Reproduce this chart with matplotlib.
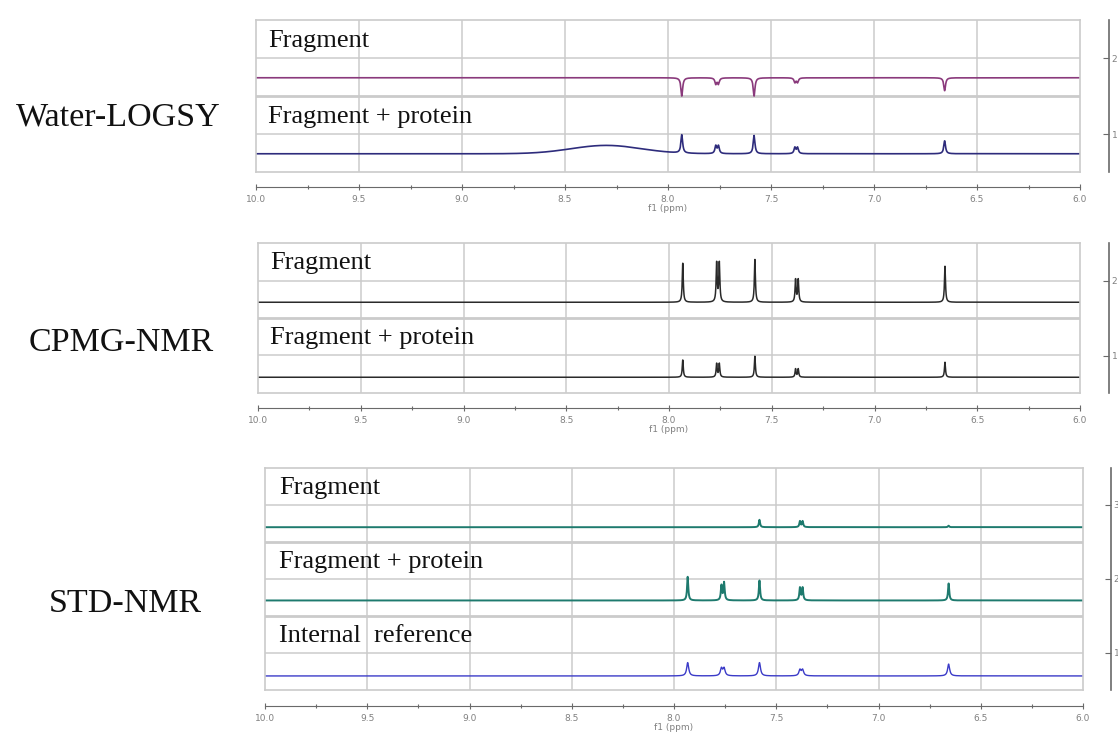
"""Ligand-observed NMR screening panels: Water-LOGSY, CPMG and STD."""
import matplotlib.pyplot as plt
import numpy as np
from matplotlib.ticker import MultipleLocator

PPM_TICKS = [10.0, 9.5, 9.0, 8.5, 8.0, 7.5, 7.0, 6.5, 6.0]
PPM_LABELS = ["10.0", "9.5", "9.0", "8.5", "8.0", "7.5", "7.0", "6.5", "6.0"]

# fragment signals (ppm): singlet, doublet, singlet, doublet, singlet
PEAK_PPM = [7.933, 7.768, 7.755, 7.582, 7.384, 7.371, 6.657]

# peak heights, in units of one trace row
LOGSY_FRAGMENT = [-0.24, -0.08, -0.08, -0.24, -0.06, -0.06, -0.17]
LOGSY_COMPLEX = [0.24, 0.10, 0.10, 0.24, 0.08, 0.08, 0.17]
LOGSY_HUMP = [8.30, 0.11, 0.17]          # protein background: centre, height, sigma
CPMG_FRAGMENT = [0.52, 0.52, 0.52, 0.57, 0.30, 0.30, 0.48]
CPMG_COMPLEX = [0.23, 0.18, 0.18, 0.28, 0.11, 0.11, 0.20]
STD_FRAGMENT = [0.0, 0.0, 0.0, 0.10, 0.08, 0.08, 0.02]
STD_COMPLEX = [0.32, 0.20, 0.24, 0.27, 0.17, 0.17, 0.23]
STD_REFERENCE = [0.18, 0.10, 0.10, 0.18, 0.08, 0.08, 0.16]

GRID = "#cbcbcb"
AXIS = "#6a6a6a"
SERIF = "Liberation Serif"

fig = plt.figure(figsize=(11.18, 7.36), dpi=100)
x = np.linspace(6.0, 10.0, 8001)


def lorentz(heights, hwhm):
    y = np.zeros_like(x)
    for c, h in zip(PEAK_PPM, heights):
        y += h / (1 + ((x - c) / hwhm) ** 2)
    return y


def setup_panel(rect, n_rows, xaxis_pos, yaxis_pos):
    ax = fig.add_axes(rect)
    ax.set_xlim(10.0, 6.0)
    ax.set_ylim(0, n_rows)
    ax.set_xticks([])
    ax.set_yticks([])
    for s in ax.spines.values():
        s.set_color(GRID)
        s.set_linewidth(1.2)
    for p in PPM_TICKS[1:-1]:
        ax.axvline(p, color=GRID, lw=1.1, zorder=0)
    for r in range(n_rows):
        ax.axhline(r + 0.5, color=GRID, lw=1.1, zorder=0)
        if r > 0:
            ax.axhline(r, color=GRID, lw=2.0, zorder=0)

    sec = ax.secondary_xaxis(xaxis_pos)
    sec.set_xticks(PPM_TICKS, PPM_LABELS)
    sec.xaxis.set_minor_locator(MultipleLocator(0.25))
    sec.tick_params(which="both", direction="inout", color=AXIS, labelcolor="#808080",
                    labelsize=6.5, length=5, width=0.8, pad=3)
    sec.tick_params(which="minor", length=3)
    sec.spines["bottom"].set_color(AXIS)
    sec.set_xlabel("f1 (ppm)", fontsize=6.5, color="#808080", labelpad=0)

    right = ax.secondary_yaxis(yaxis_pos)
    right.set_yticks([r + 0.5 for r in range(n_rows)], [str(r + 1) for r in range(n_rows)])
    right.tick_params(direction="in", color=AXIS, labelcolor="#808080", labelsize=6.5,
                      length=4, width=0.8, pad=2)
    right.spines["right"].set_color(AXIS)
    right.spines["right"].set_linewidth(1.2)
    return ax


def label_rows(ax, names, x0):
    n = len(names)
    for i, name in enumerate(names):
        ax.text(x0, n - i - 0.27, name, transform=ax.get_yaxis_transform(),
                ha="left", va="center", fontsize=19, family=SERIF, color="#111111")


# Water-LOGSY
ax1 = setup_panel([256 / 1118, 1 - 172 / 736, 824 / 1118, 152 / 736], 2, -0.099, 1.035)
hump = LOGSY_HUMP[1] * np.exp(-0.5 * ((x - LOGSY_HUMP[0]) / LOGSY_HUMP[2]) ** 2)
ax1.plot(x, 1.24 + lorentz(LOGSY_FRAGMENT, 0.005), color="#8a3a7c", lw=1.2)
ax1.plot(x, 0.24 + lorentz(LOGSY_COMPLEX, 0.005) + hump, color="#2e2c7c", lw=1.2)
label_rows(ax1, ["Fragment", "Fragment + protein"], 0.0146)

# CPMG
ax2 = setup_panel([258 / 1118, 1 - 393 / 736, 822 / 1118, 150 / 736], 2, -0.10, 1.035)
ax2.plot(x, 1.21 + lorentz(CPMG_FRAGMENT, 0.003), color="#2a2a2a", lw=1.1)
ax2.plot(x, 0.21 + lorentz(CPMG_COMPLEX, 0.003), color="#2a2a2a", lw=1.1)
label_rows(ax2, ["Fragment", "Fragment + protein"], 0.0146)

# STD
ax3 = setup_panel([265 / 1118, 1 - 690 / 736, 818 / 1118, 222 / 736], 3, -0.072, 1.034)
ax3.plot(x, 2.2 + lorentz(STD_FRAGMENT, 0.0035), color="#1e7a6e", lw=1.4)
ax3.plot(x, 1.21 + lorentz(STD_COMPLEX, 0.0035), color="#1e7a6e", lw=1.4)
ax3.plot(x, 0.19 + lorentz(STD_REFERENCE, 0.006), color="#3b3bc8", lw=1.0)
label_rows(ax3, ["Fragment", "Fragment + protein", "Internal  reference"], 0.017)

for txt, cx, cy in [("Water-LOGSY", 118, 117), ("CPMG-NMR", 121, 343), ("STD-NMR", 125, 604)]:
    fig.text(cx / 1118, 1 - cy / 736, txt, ha="center", va="center",
             fontsize=24.5, family=SERIF, color="#111111")

fig.savefig("out.png", dpi=100)
